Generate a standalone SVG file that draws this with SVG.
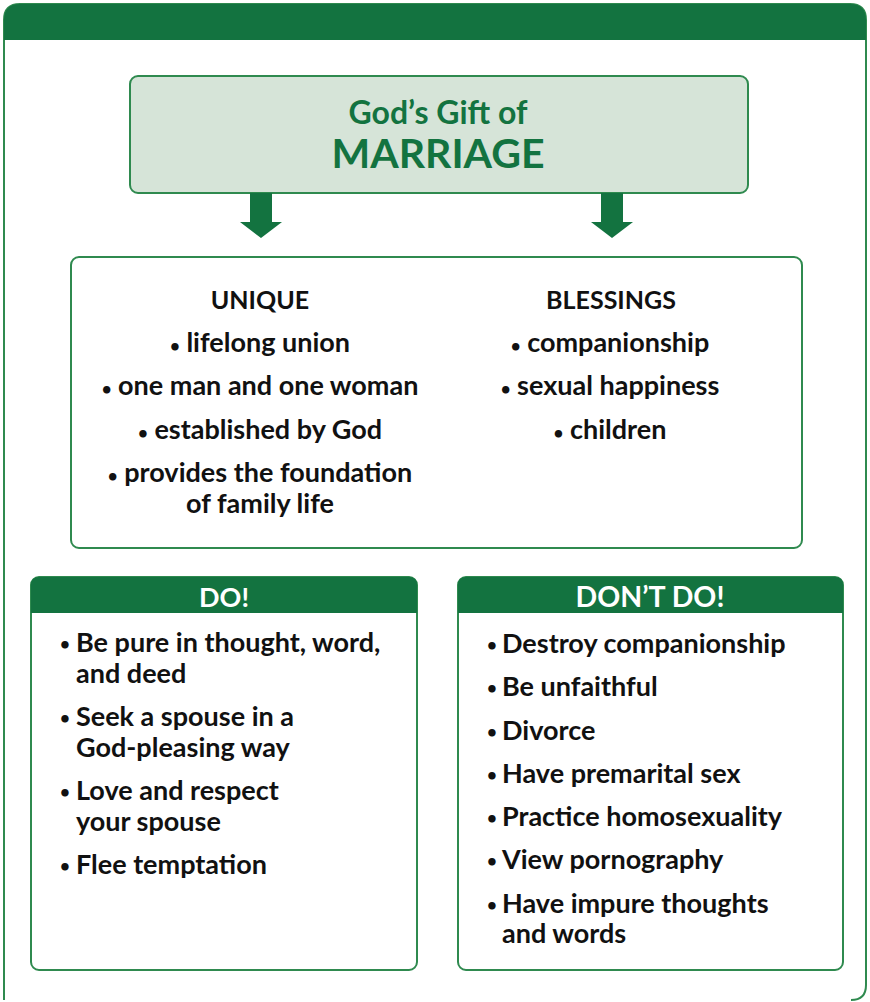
<svg xmlns="http://www.w3.org/2000/svg" width="870" height="1002" viewBox="0 0 870 1002">
<style>
.t{font-family:Lato,"Liberation Sans",sans-serif;font-weight:700;fill:#111;font-size:27px}
.h{font-size:25px}
.c{text-anchor:middle}
.g{fill:#137340}
.w{fill:#fff}
.b{font-size:17px}
.box{fill:#fff;stroke:#2f8a4f;stroke-width:2}
</style>
<defs>
<path id="arr" d="M-11,0 H11 V29 H21 L0,45 L-21,29 H-11 Z" fill="#137340"/>
</defs>
<g id="frame">
<path d="M4,1000 V20 Q4,4 20,4 H850 Q866,4 866,20 V985 Q866,1000 851,1000" fill="#fff" stroke="#2f8a4f" stroke-width="2"/>
<path d="M4,40 V20 Q4,4 20,4 H850 Q866,4 866,20 V40 Z" fill="#137340"/>
</g>
<g id="title">
<rect x="130" y="76" width="618" height="117" rx="8" fill="#d6e4d8" stroke="#2f8a4f" stroke-width="2"/>
<text class="t c g" x="438" y="124" style="font-size:32px">God’s Gift of</text>
<text class="t c g" x="438" y="168" style="font-size:41px">MARRIAGE</text>
</g>
<g id="connectors">
<use href="#arr" x="261" y="193"/>
<use href="#arr" x="612" y="193"/>
</g>
<g id="middle">
<rect class="box" x="71" y="257" width="731" height="291" rx="8"/>
<text class="t h c" x="260" y="309">UNIQUE</text>
<text class="t c" x="260" y="352"><tspan class="b">•</tspan> lifelong union</text>
<text class="t c" x="260" y="395"><tspan class="b">•</tspan> one man and one woman</text>
<text class="t c" x="260" y="439"><tspan class="b">•</tspan> established by God</text>
<text class="t c" x="260" y="482"><tspan class="b">•</tspan> provides the foundation</text>
<text class="t c" x="260" y="513">of family life</text>
<text class="t h c" x="611" y="309">BLESSINGS</text>
<text class="t c" x="610" y="352"><tspan class="b">•</tspan> companionship</text>
<text class="t c" x="610" y="395"><tspan class="b">•</tspan> sexual happiness</text>
<text class="t c" x="610" y="439"><tspan class="b">•</tspan> children</text>
</g>
<g id="do">
<rect class="box" x="31" y="577" width="386" height="393" rx="8"/>
<path d="M31,613 V585 Q31,577 39,577 H409 Q417,577 417,585 V613 Z" fill="#137340"/>
<text class="t c w" x="224" y="607" style="font-size:27px">DO!</text>
<text class="t b" x="60" y="650">•</text>
<text class="t" x="76" y="652">Be pure in thought, word,</text>
<text class="t" x="76" y="683">and deed</text>
<text class="t b" x="60" y="724">•</text>
<text class="t" x="76" y="726">Seek a spouse in a</text>
<text class="t" x="76" y="757">God-pleasing way</text>
<text class="t b" x="60" y="798">•</text>
<text class="t" x="76" y="800">Love and respect</text>
<text class="t" x="76" y="831">your spouse</text>
<text class="t b" x="60" y="872">•</text>
<text class="t" x="76" y="874">Flee temptation</text>
</g>
<g id="dont">
<rect class="box" x="458" y="577" width="385" height="393" rx="8"/>
<path d="M458,613 V585 Q458,577 466,577 H835 Q843,577 843,585 V613 Z" fill="#137340"/>
<text class="t c w" x="650" y="607" style="font-size:28.5px">DON’T DO!</text>
<text class="t b" x="487" y="651">•</text>
<text class="t" x="502" y="653">Destroy companionship</text>
<text class="t b" x="487" y="694">•</text>
<text class="t" x="502" y="696">Be unfaithful</text>
<text class="t b" x="487" y="738">•</text>
<text class="t" x="502" y="740">Divorce</text>
<text class="t b" x="487" y="781">•</text>
<text class="t" x="502" y="783">Have premarital sex</text>
<text class="t b" x="487" y="824">•</text>
<text class="t" x="502" y="826">Practice homosexuality</text>
<text class="t b" x="487" y="867">•</text>
<text class="t" x="502" y="869">View pornography</text>
<text class="t b" x="487" y="911">•</text>
<text class="t" x="502" y="913">Have impure thoughts</text>
<text class="t" x="502" y="943">and words</text>
</g>
</svg>
